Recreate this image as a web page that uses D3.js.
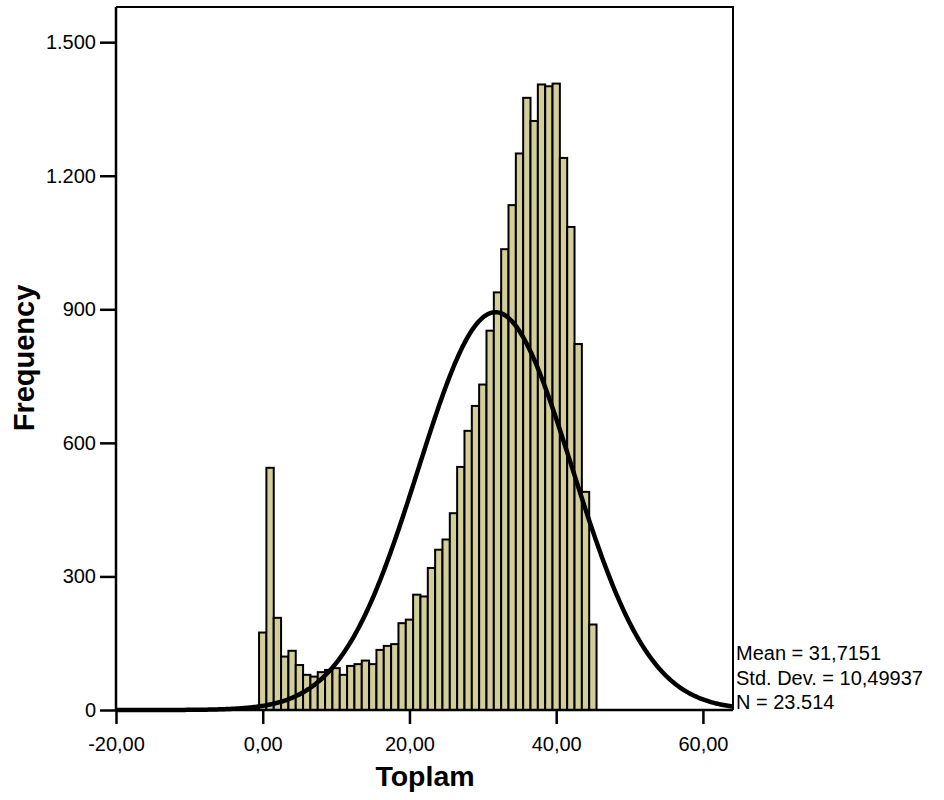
<!DOCTYPE html>
<html>
<head>
<meta charset="utf-8">
<script src="https://cdn.jsdelivr.net/npm/d3@7"></script>
<style>
  body { margin: 0; background: #fff; }
  svg { display: block; font-family: "Liberation Sans", Arial, sans-serif; }
</style>
</head>
<body>
<div class="histogram"></div>
<script>
// bin centres (bin width 1) and counts
const binCenters = [0, 1, 2, 3, 4, 5, 6, 7, 8, 9, 10, 11, 12, 13, 14, 15, 16, 17, 18, 19,
  20, 21, 22, 23, 24, 25, 26, 27, 28, 29, 30, 31, 32, 33, 34, 35, 36, 37, 38, 39,
  40, 41, 42, 43, 44, 45];
const counts = [174, 544, 207, 120, 133, 101, 79, 75, 85, 90, 94, 79, 99, 103, 111, 103, 135, 144, 148, 195,
  203, 259, 255, 319, 360, 383, 442, 546, 627, 683, 731, 852, 938, 1035, 1134, 1250, 1375, 1323, 1405, 1401,
  1407, 1240, 1085, 822, 490, 192];
const yTicks = [0, 300, 600, 900, 1200, 1500];
const xTicks = [-20, 0, 20, 40, 60];
const stats = { mean: 31.7151, sd: 10.49937, n: 23514 };
const statLines = ['Mean = 31,7151', 'Std. Dev. = 10,49937', 'N = 23.514'];

const width = 944;
const height = 800;
const margin = { top: 7, left: 116, right: 211, bottom: 90 };
const innerW = width - margin.left - margin.right;
const innerH = height - margin.top - margin.bottom;
const binWidth = 1;

const tr = d3.formatLocale({ decimal: ',', thousands: '.', grouping: [3], currency: ['', ''], minus: '-' });

const svg = d3.select('.histogram')
  .append('svg')
  .attr('width', width)
  .attr('height', height);

const g = svg.append('g')
  .attr('transform', `translate(${margin.left},${margin.top})`);

const x = d3.scaleLinear().domain([-20, 64.1]).range([0, innerW]);
const y = d3.scaleLinear().domain([0, 1579]).range([innerH, 0]);

// bars
g.selectAll('.bar')
  .data(binCenters)
  .enter()
  .append('rect')
  .attr('class', 'bar')
  .attr('x', d => x(d - binWidth / 2))
  .attr('width', d => x(d + binWidth / 2) - x(d - binWidth / 2))
  .attr('y', (d, i) => y(counts[i]))
  .attr('height', (d, i) => y(0) - y(counts[i]))
  .attr('fill', '#d3cd97')
  .attr('stroke', '#000')
  .attr('stroke-width', 2);

// normal curve from the reported mean / sd / N
const curvePts = d3.range(-20, 64.1, 0.2).map(v => {
  const z = (v - stats.mean) / stats.sd;
  return [v, stats.n * binWidth * Math.exp(-0.5 * z * z) / (stats.sd * Math.sqrt(2 * Math.PI))];
});
g.append('path')
  .datum(curvePts)
  .attr('fill', 'none')
  .attr('stroke', '#000')
  .attr('stroke-width', 4.5)
  .attr('d', d3.line().x(d => x(d[0])).y(d => y(d[1])));

// frame top/right
g.append('path')
  .attr('d', `M0,0H${innerW}V${innerH}`)
  .attr('fill', 'none')
  .attr('stroke', '#000')
  .attr('stroke-width', 2);

// axes
const yAxis = g.append('g')
  .call(d3.axisLeft(y).tickValues(yTicks).tickSize(16).tickPadding(4).tickFormat(tr.format(',d')));
const xAxis = g.append('g')
  .attr('transform', `translate(0,${innerH})`)
  .call(d3.axisBottom(x).tickValues(xTicks).tickSize(14).tickPadding(13).tickFormat(tr.format('.2f')));

[yAxis, xAxis].forEach(a => {
  a.select('.domain').attr('stroke-width', 2.5);
  a.selectAll('.tick line').attr('stroke-width', 2.5);
  a.selectAll('.tick text')
    .attr('font-size', 20)
    .attr('font-family', '"Liberation Sans", Arial, sans-serif')
    .attr('fill', '#000');
});
yAxis.select('.domain').attr('d', `M0,0V${innerH}`);
xAxis.select('.domain').attr('d', `M0,0H${innerW}`);

// axis titles
svg.append('text')
  .attr('x', 425)
  .attr('y', 786)
  .attr('text-anchor', 'middle')
  .attr('font-size', 28.5)
  .attr('font-weight', 'bold')
  .text('Toplam');

svg.append('text')
  .attr('transform', 'translate(34,358) rotate(-90)')
  .attr('text-anchor', 'middle')
  .attr('font-size', 29)
  .attr('font-weight', 'bold')
  .text('Frequency');

// stats box text
svg.append('g')
  .selectAll('text')
  .data(statLines)
  .enter()
  .append('text')
  .attr('x', 736)
  .attr('y', (d, i) => 660 + i * 24.5)
  .attr('font-size', 20)
  .text(d => d);
</script>
</body>
</html>
